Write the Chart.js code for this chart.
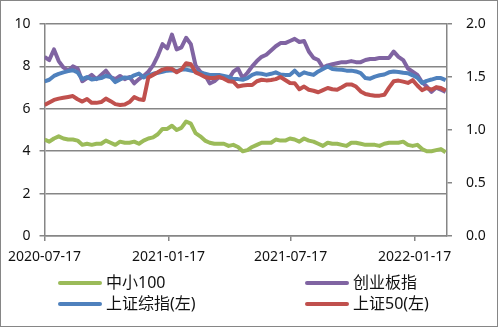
<!DOCTYPE html>
<html>
<head>
<meta charset="utf-8">
<script src="https://cdn.jsdelivr.net/npm/chart.js@4/dist/chart.umd.min.js"></script>
<style>
    html, body { margin: 0; padding: 0; background: #fff; }
    #wrap { width: 498px; height: 327px; position: relative; }
</style>
</head>
<body>
<div id="wrap"><canvas id="chart" width="498" height="327"></canvas></div>
<script>
document.addEventListener('DOMContentLoaded', () => {
    "use strict";

    // Weekly dates, starting 2020-07-17
    var dates = [];
    for (var i = 0; i < 86; i++) {
        dates.push(new Date(Date.UTC(2020, 6, 17 + 7 * i)).toISOString().slice(0, 10));
    }

    var tickLabels = ['2020-07-17', '2021-01-17', '2021-07-17', '2022-01-17'];

    // right axis
    var zhongxiao100 = [0.91, 0.89, 0.92, 0.94, 0.92, 0.91, 0.91, 0.90, 0.86, 0.87,
        0.86, 0.87, 0.87, 0.90, 0.88, 0.86, 0.89, 0.88, 0.88, 0.89,
        0.87, 0.90, 0.92, 0.93, 0.96, 1.01, 1.01, 1.04, 1.00, 1.02,
        1.08, 1.06, 0.97, 0.94, 0.90, 0.88, 0.87, 0.87, 0.87, 0.85,
        0.86, 0.84, 0.80, 0.81, 0.84, 0.86, 0.88, 0.88, 0.88, 0.91,
        0.90, 0.90, 0.92, 0.91, 0.89, 0.92, 0.90, 0.89, 0.87, 0.85,
        0.88, 0.87, 0.87, 0.86, 0.85, 0.88, 0.88, 0.87, 0.86, 0.86,
        0.86, 0.85, 0.87, 0.88, 0.88, 0.88, 0.89, 0.86, 0.85, 0.86,
        0.82, 0.80, 0.80, 0.81, 0.82, 0.79];
    var chuangye = [1.69, 1.66, 1.76, 1.65, 1.59, 1.56, 1.60, 1.58, 1.46, 1.49,
        1.52, 1.48, 1.52, 1.56, 1.50, 1.48, 1.51, 1.48, 1.50, 1.44,
        1.48, 1.51, 1.55, 1.61, 1.70, 1.81, 1.77, 1.90, 1.76, 1.78,
        1.87, 1.81, 1.61, 1.55, 1.52, 1.44, 1.46, 1.50, 1.49, 1.48,
        1.55, 1.58, 1.49, 1.54, 1.60, 1.65, 1.69, 1.71, 1.75, 1.79,
        1.82, 1.82, 1.84, 1.86, 1.83, 1.84, 1.74, 1.68, 1.66, 1.59,
        1.61, 1.62, 1.63, 1.64, 1.64, 1.65, 1.64, 1.64, 1.66, 1.67,
        1.67, 1.68, 1.68, 1.68, 1.74, 1.69, 1.66, 1.58, 1.55, 1.52,
        1.45, 1.41, 1.36, 1.40, 1.38, 1.36];
    // left axis
    var shangzheng = [7.29, 7.37, 7.55, 7.65, 7.72, 7.78, 7.82, 7.72, 7.40, 7.50,
        7.38, 7.42, 7.45, 7.55, 7.50, 7.26, 7.38, 7.48, 7.45, 7.58,
        7.66, 7.48, 7.58, 7.65, 7.70, 7.75, 7.80, 7.82, 7.78, 7.85,
        7.85, 7.80, 7.76, 7.70, 7.65, 7.60, 7.60, 7.60, 7.55, 7.50,
        7.40, 7.40, 7.37, 7.45, 7.60, 7.68, 7.65, 7.60, 7.65, 7.72,
        7.62, 7.60, 7.60, 7.80, 7.58, 7.72, 7.65, 7.60, 7.76, 7.88,
        8.00, 7.88, 7.85, 7.84, 7.80, 7.80, 7.76, 7.68, 7.45, 7.42,
        7.52, 7.58, 7.62, 7.72, 7.76, 7.74, 7.70, 7.68, 7.58, 7.47,
        7.22, 7.32, 7.38, 7.45, 7.45, 7.35];
    var sz50 = [6.18, 6.30, 6.42, 6.48, 6.52, 6.56, 6.60, 6.45, 6.34, 6.46,
        6.28, 6.28, 6.32, 6.48, 6.36, 6.22, 6.18, 6.20, 6.32, 6.55,
        6.45, 6.42, 7.48, 7.60, 7.72, 7.85, 7.90, 7.88, 7.72, 7.85,
        8.15, 8.10, 7.72, 7.62, 7.50, 7.45, 7.45, 7.50, 7.42, 7.30,
        7.28, 7.05, 7.10, 7.12, 7.12, 7.30, 7.37, 7.34, 7.36, 7.40,
        7.50, 7.36, 7.22, 7.21, 6.92, 7.05, 6.90, 6.85, 6.78, 6.88,
        6.98, 6.92, 6.90, 7.02, 7.15, 7.15, 7.05, 6.82, 6.70, 6.65,
        6.62, 6.62, 6.66, 7.00, 7.30, 7.33, 7.28, 7.22, 7.35, 7.10,
        6.88, 6.98, 6.90, 7.02, 6.98, 6.86];

    var base = Date.UTC(2020, 6, 17);
    function dayNum(s) {
        var p = s.split('-');
        return (Date.UTC(+p[0], +p[1] - 1, +p[2]) - base) / 86400000;
    }
    function points(values) {
        return values.map(function(v, i) { return { x: dayNum(dates[i]), y: v }; });
    }

    var grey = '#868686';
    var font = { family: "'Noto Sans', 'Noto Sans CJK SC'", size: 14 };

    // chart border + custom two column legend
    var frame = {
        id: 'frame',
        beforeDraw: function(chart) {
            var c = chart.ctx;
            c.save();
            c.fillStyle = '#fff';
            c.fillRect(0, 0, chart.width, chart.height);
            c.restore();
        },
        afterDraw: function(chart) {
            var c = chart.ctx;
            c.save();
            c.strokeStyle = grey;
            c.lineWidth = 1;
            c.strokeRect(0.5, 0.5, chart.width - 1, chart.height - 1);
            var cols = [58, 305], rows = [283, 304];
            c.font = "16px 'Noto Sans', 'Noto Sans CJK SC'";
            c.textBaseline = 'middle';
            c.fillStyle = '#111';
            chart.data.datasets.forEach(function(ds, i) {
                var x = cols[i % 2], y = rows[Math.floor(i / 2)];
                c.strokeStyle = ds.borderColor;
                c.lineWidth = 4;
                c.lineCap = 'round';
                c.beginPath();
                c.moveTo(x + 2, y);
                c.lineTo(x + 42, y);
                c.stroke();
                c.fillText(ds.label, x + 48, y);
            });
            c.restore();
        }
    };

    var ctx = document.getElementById('chart').getContext('2d');
    new Chart(ctx, {
        type: 'line',
        data: {
            datasets: [
                { label: '中小100', data: points(zhongxiao100), yAxisID: 'y1', borderColor: '#9BBB59', order: 4 },
                { label: '创业板指', data: points(chuangye), yAxisID: 'y1', borderColor: '#8064A2', order: 3 },
                { label: '上证综指(左)', data: points(shangzheng), yAxisID: 'y', borderColor: '#4F81BD', order: 2 },
                { label: '上证50(左)', data: points(sz50), yAxisID: 'y', borderColor: '#C0504D', order: 1 }
            ]
        },
        options: {
            responsive: false,
            animation: false,
            layout: { padding: { top: 24, left: 0, right: 0, bottom: 0 } },
            elements: {
                point: { radius: 0 },
                line: { borderWidth: 4, tension: 0, borderJoinStyle: 'round' }
            },
            plugins: { legend: { display: false }, tooltip: { enabled: false } },
            scales: {
                x: {
                    type: 'linear',
                    min: 0,
                    max: 597,
                    afterBuildTicks: function(scale) {
                        scale.ticks = tickLabels.map(function(t) { return { value: dayNum(t) }; });
                    },
                    afterFit: function(scale) { scale.height = 91; },
                    ticks: {
                        autoSkip: false,
                        maxRotation: 0,
                        padding: 8,
                        color: '#111',
                        font: font,
                        callback: function(v, i) { return tickLabels[i]; }
                    },
                    grid: { drawOnChartArea: false, color: grey, lineWidth: 1.5, tickLength: 5 },
                    border: { color: grey, width: 1.5 }
                },
                y: {
                    position: 'left',
                    min: 0,
                    max: 10,
                    afterFit: function(scale) { scale.width = 41; },
                    ticks: { stepSize: 2, padding: 9, color: '#111', font: font },
                    grid: { color: grey, lineWidth: 1.5, tickLength: 5 },
                    border: { color: grey, width: 1.5 }
                },
                y1: {
                    position: 'right',
                    min: 0,
                    max: 2,
                    afterFit: function(scale) { scale.width = 51; },
                    ticks: {
                        stepSize: 0.5,
                        padding: 14,
                        color: '#111',
                        font: font,
                        callback: function(v) { return v.toFixed(1); }
                    },
                    grid: { drawOnChartArea: false, color: grey, lineWidth: 1.5, tickLength: 5 },
                    border: { color: grey, width: 1.5 }
                }
            }
        },
        plugins: [frame]
    });
});
</script>
</body>
</html>
